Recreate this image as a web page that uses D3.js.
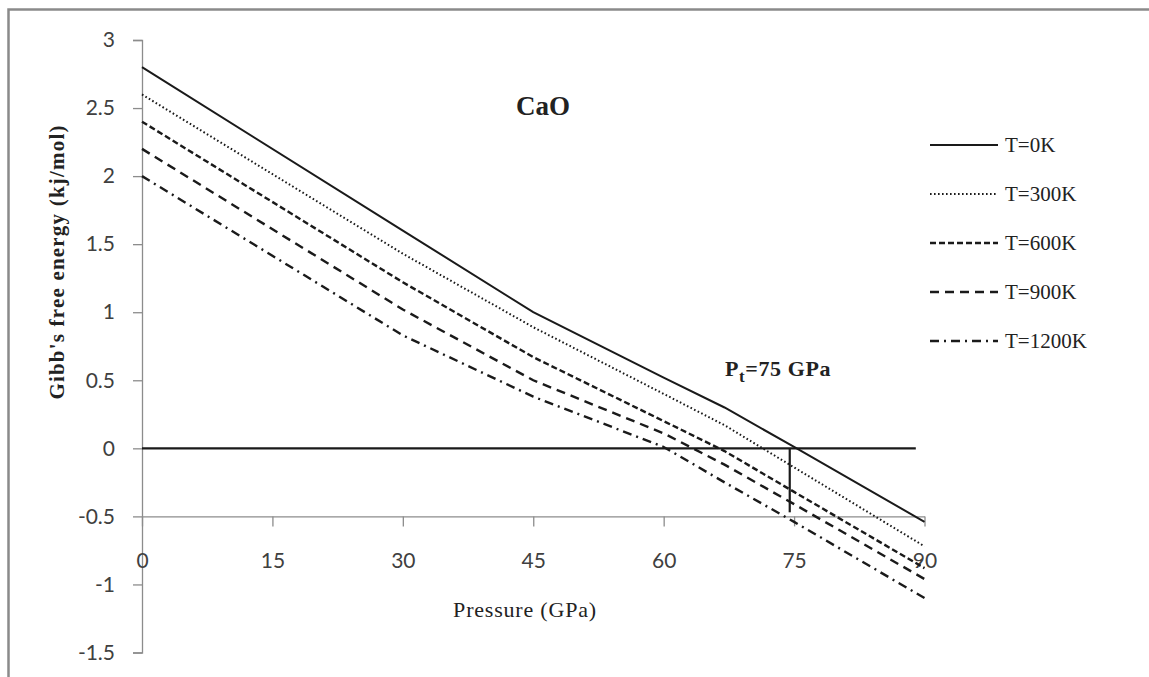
<!DOCTYPE html>
<html>
<head>
<meta charset="utf-8">
<script src="https://cdn.jsdelivr.net/npm/d3@7"></script>
<style>
  body { margin: 0; background: #fff; }
  svg { display: block; }
</style>
</head>
<body>
<svg id="chart"></svg>
<script>
// pressures (GPa) where the curves are sampled
const pressures = [0, 30, 45, 60, 67, 75, 90];

// Gibbs free energy difference (kj/mol) for each temperature
const g0K    = [2.8, 1.6, 1.0, 0.52, 0.3, 0.01, -0.54];
const g300K  = [2.6, 1.43, 0.89, 0.40, 0.17, -0.14, -0.72];
const g600K  = [2.4, 1.22, 0.67, 0.2, -0.02, -0.32, -0.88];
const g900K  = [2.2, 1.02, 0.50, 0.11, -0.12, -0.41, -0.96];
const g1200K = [2.0, 0.83, 0.38, 0.01, -0.25, -0.54, -1.10];

const seriesNames = ["T=0K", "T=300K", "T=600K", "T=900K", "T=1200K"];

const xTicks = [0, 15, 30, 45, 60, 75, 90];
const yTicks = [3, 2.5, 2, 1.5, 1, 0.5, 0, -0.5, -1, -1.5];

// zero line and transition pressure marker
const zeroLine = [[0, 0], [89, 0]];
const transitionMark = [[74.5, 0], [74.5, -0.47]];

class GibbsChart {
    constructor(config) {
        this.config = {
            parent: config.parent,
            width: config.width || 1149,
            height: config.height || 677
        };
        this.init();
    }

    init() {
        let self = this;
        self.svg = d3.select(self.config.parent)
            .attr('width', self.config.width)
            .attr('height', self.config.height);

        // outer frame (top and left edges only visible)
        self.svg.append('path')
            .attr('d', `M8.5,677 V9.5 H1149`)
            .attr('fill', 'none')
            .attr('stroke', '#8a8a8a')
            .attr('stroke-width', 2.5);

        self.xscale = d3.scaleLinear().domain([0, 90]).range([142, 924.5]);
        self.yscale = d3.scaleLinear().domain([-1.5, 3]).range([652.5, 40]);

        self.chart = self.svg.append('g');
    }

    render() {
        let self = this;
        const x = self.xscale, y = self.yscale;
        const tickFont = 'Lato, "Open Sans", sans-serif';
        const serif = '"Liberation Serif", "Times New Roman", serif';

        // y axis
        const yaxis = d3.axisLeft(y).tickValues(yTicks).tickSize(9).tickPadding(18)
            .tickFormat(d => d);
        const yg = self.chart.append('g')
            .attr('transform', `translate(${x(0)},0)`)
            .call(yaxis);
        yg.select('.domain').attr('stroke', '#8c8c8c').attr('stroke-width', 1.3);
        yg.selectAll('.tick line').attr('stroke', '#8c8c8c').attr('stroke-width', 1.3);
        yg.selectAll('text')
            .attr('font-family', tickFont)
            .attr('font-size', '21px')
            .attr('fill', '#404040');

        // x axis crossing at -0.5
        const xaxis = d3.axisBottom(x).tickValues(xTicks).tickSize(10).tickPadding(27)
            .tickSizeOuter(0);
        const xg = self.chart.append('g')
            .attr('transform', `translate(0,${y(-0.5)})`)
            .call(xaxis);
        xg.select('.domain').attr('stroke', '#8c8c8c').attr('stroke-width', 1.3);
        xg.selectAll('.tick line').attr('stroke', '#8c8c8c').attr('stroke-width', 1.3);
        xg.selectAll('text')
            .attr('font-family', tickFont)
            .attr('font-size', '21px')
            .attr('fill', '#404040');

        const line = d3.line().x(d => x(d[0])).y(d => y(d[1]));

        // horizontal zero line
        self.chart.append('path')
            .attr('d', line(zeroLine))
            .attr('fill', 'none')
            .attr('stroke', '#1a1a1a')
            .attr('stroke-width', 2.2);

        const styles = [
            {dash: null, w: 2},
            {dash: '1.6,2.4', w: 2},
            {dash: '6,3', w: 2.4},
            {dash: '9,6', w: 2.4},
            {dash: '9,5,2,5', w: 2.4}
        ];
        const allSeries = [g0K, g300K, g600K, g900K, g1200K];

        self.chart.selectAll('.series')
            .data(allSeries)
            .join('path')
            .attr('class', 'series')
            .attr('d', vals => line(pressures.map((p, i) => [p, vals[i]])))
            .attr('fill', 'none')
            .attr('stroke', '#1a1a1a')
            .attr('stroke-width', (d, i) => styles[i].w)
            .attr('stroke-dasharray', (d, i) => styles[i].dash);

        // transition pressure marker
        self.chart.append('path')
            .attr('d', line(transitionMark))
            .attr('fill', 'none')
            .attr('stroke', '#1a1a1a')
            .attr('stroke-width', 2.2);

        // legend
        const legend = self.svg.append('g');
        const rows = legend.selectAll('g')
            .data(seriesNames)
            .join('g')
            .attr('transform', (d, i) => `translate(930, ${145 + i * 49})`);
        rows.append('line')
            .attr('x1', 0).attr('x2', 68)
            .attr('stroke', '#1a1a1a')
            .attr('stroke-width', (d, i) => styles[i].w)
            .attr('stroke-dasharray', (d, i) => styles[i].dash);
        rows.append('text')
            .attr('x', 75).attr('y', 7)
            .attr('font-family', serif)
            .attr('font-size', '21px')
            .attr('fill', '#222')
            .text(d => d);

        // title
        self.svg.append('text')
            .attr('x', 543).attr('y', 115)
            .attr('text-anchor', 'middle')
            .attr('font-family', serif)
            .attr('font-weight', 'bold')
            .attr('font-size', '27px')
            .attr('fill', '#222')
            .text('CaO');

        // transition pressure label
        const pt = self.svg.append('text')
            .attr('x', 725).attr('y', 376)
            .attr('font-family', serif)
            .attr('font-weight', 'bold')
            .attr('font-size', '22px')
            .attr('letter-spacing', '0.6px')
            .attr('fill', '#222');
        pt.append('tspan').text('P');
        pt.append('tspan').attr('dy', 6).attr('font-size', '17px').text('t');
        pt.append('tspan').attr('dy', -6).text('=75 GPa');

        // axis titles
        self.svg.append('text')
            .attr('x', 525).attr('y', 617)
            .attr('text-anchor', 'middle')
            .attr('font-family', serif)
            .attr('font-size', '22px')
            .attr('letter-spacing', '0.8px')
            .attr('fill', '#222')
            .text('Pressure (GPa)');

        self.svg.append('text')
            .attr('transform', 'translate(64, 262) rotate(-90)')
            .attr('text-anchor', 'middle')
            .attr('font-family', serif)
            .attr('font-weight', 'bold')
            .attr('font-size', '21px')
            .attr('letter-spacing', '1.2px')
            .attr('fill', '#222')
            .text("Gibb's free energy (kj/mol)");
    }
}

const chart = new GibbsChart({parent: '#chart'});
chart.render();
</script>
</body>
</html>
